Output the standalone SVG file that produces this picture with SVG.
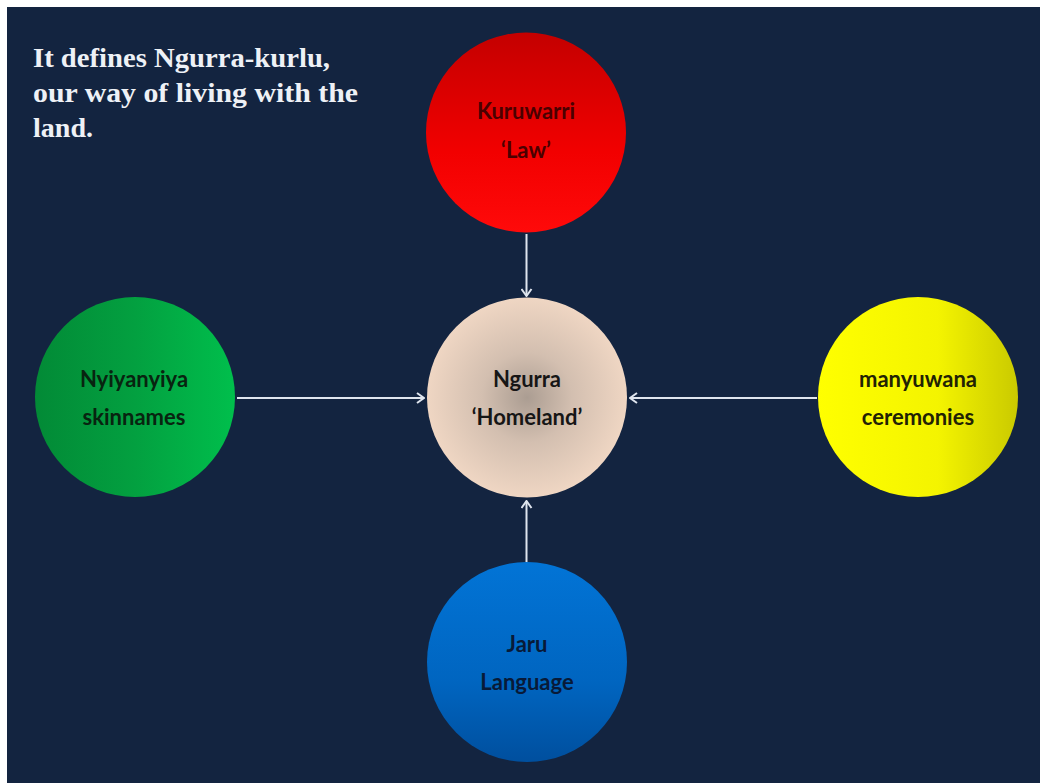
<svg xmlns="http://www.w3.org/2000/svg" width="1040" height="783" viewBox="0 0 1040 783">
  <defs>
    <linearGradient id="gRed" x1="0" y1="0" x2="0" y2="1">
      <stop offset="0" stop-color="#c40000"/>
      <stop offset="0.6" stop-color="#f20000"/>
      <stop offset="1" stop-color="#ff0a0a"/>
    </linearGradient>
    <radialGradient id="gBeige" cx="0.5" cy="0.5" r="0.5">
      <stop offset="0" stop-color="#ab9d92"/>
      <stop offset="0.45" stop-color="#d3bfb0"/>
      <stop offset="1" stop-color="#efd6c3"/>
    </radialGradient>
    <linearGradient id="gGreen" x1="0" y1="0" x2="1" y2="0">
      <stop offset="0" stop-color="#028a36"/>
      <stop offset="0.5" stop-color="#03a040"/>
      <stop offset="1" stop-color="#00bf4c"/>
    </linearGradient>
    <linearGradient id="gYellow" x1="0" y1="0" x2="1" y2="0">
      <stop offset="0" stop-color="#ffff00"/>
      <stop offset="0.6" stop-color="#f4f400"/>
      <stop offset="1" stop-color="#caca00"/>
    </linearGradient>
    <linearGradient id="gBlue" x1="0" y1="0" x2="0" y2="1">
      <stop offset="0" stop-color="#0274d6"/>
      <stop offset="0.6" stop-color="#0065c0"/>
      <stop offset="1" stop-color="#004f9e"/>
    </linearGradient>
    <marker id="arr" viewBox="0 0 12 12" refX="11" refY="6" markerWidth="12" markerHeight="12" markerUnits="userSpaceOnUse" orient="auto">
      <path d="M4,1 L11,6 L4,11" fill="none" stroke="#dfe5ee" stroke-width="2"/>
    </marker>
  </defs>
  <style>
    .title { font-family: "Liberation Serif", "DejaVu Serif", serif; font-weight: bold; font-size: 27px; fill: #eef1f6; }
    .lbl { font-family: Lato, "Liberation Sans", sans-serif; font-weight: bold; font-size: 22px; text-anchor: middle; }
    .conn { stroke: #dfe5ee; stroke-width: 2; fill: none; marker-end: url(#arr); }
  </style>
  <rect x="0" y="0" width="1040" height="783" fill="#ffffff"/>
  <rect x="7" y="7" width="1033" height="776" fill="#132440"/>

  <g id="title">
    <text class="title" x="33" y="67" textLength="297" lengthAdjust="spacingAndGlyphs">It defines Ngurra-kurlu,</text>
    <text class="title" x="33" y="102" textLength="325" lengthAdjust="spacingAndGlyphs">our way of living with the</text>
    <text class="title" x="33" y="137" textLength="60" lengthAdjust="spacingAndGlyphs">land.</text>
  </g>

  <g id="connectors">
    <line class="conn" x1="526.5" y1="234" x2="526.5" y2="296"/>
    <line class="conn" x1="237" y1="398" x2="424" y2="398"/>
    <line class="conn" x1="817" y1="398" x2="630" y2="398"/>
    <line class="conn" x1="526.5" y1="562" x2="526.5" y2="501"/>
  </g>

  <g id="kuruwarri">
    <circle cx="526" cy="132.5" r="100" fill="url(#gRed)"/>
    <text class="lbl" x="526" y="119" fill="#4a0000">Kuruwarri</text>
    <text class="lbl" x="526" y="158" fill="#4a0000">‘Law’</text>
  </g>

  <g id="ngurra">
    <circle cx="527" cy="397.5" r="100" fill="url(#gBeige)"/>
    <text class="lbl" x="527" y="387" fill="#161616">Ngurra</text>
    <text class="lbl" x="527" y="425" fill="#161616">‘Homeland’</text>
  </g>

  <g id="nyiyanyiya">
    <circle cx="135" cy="397" r="100" fill="url(#gGreen)"/>
    <text class="lbl" x="134" y="387" fill="#082410">Nyiyanyiya</text>
    <text class="lbl" x="134" y="425" fill="#082410">skinnames</text>
  </g>

  <g id="manyuwana">
    <circle cx="918" cy="397" r="100" fill="url(#gYellow)"/>
    <text class="lbl" x="918" y="387" fill="#222204">manyuwana</text>
    <text class="lbl" x="918" y="425" fill="#222204">ceremonies</text>
  </g>

  <g id="jaru">
    <circle cx="527" cy="662" r="100" fill="url(#gBlue)"/>
    <text class="lbl" x="527" y="652" fill="#081a38">Jaru</text>
    <text class="lbl" x="527" y="690" fill="#081a38">Language</text>
  </g>
</svg>
